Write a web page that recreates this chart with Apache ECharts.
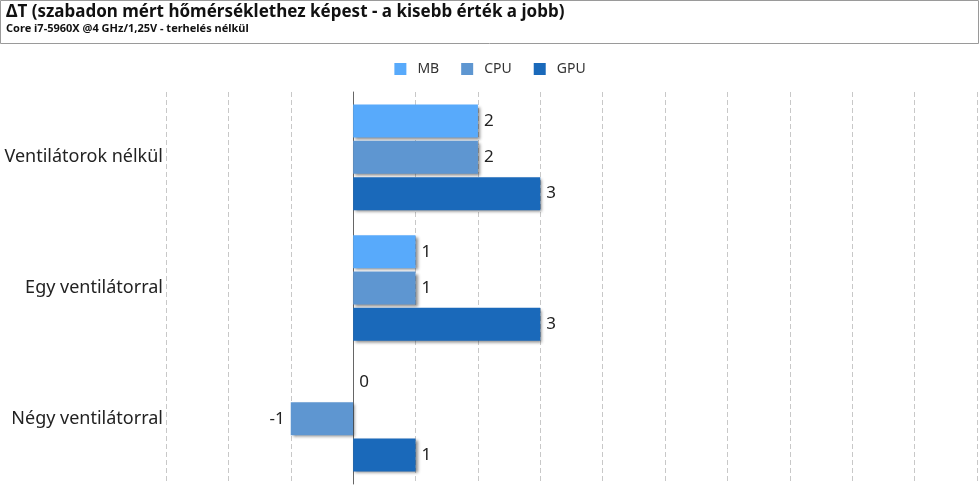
<!DOCTYPE html>
<html><head><meta charset="utf-8">
<script src="https://cdn.jsdelivr.net/npm/echarts@6/dist/echarts.min.js"></script>
<style>html,body{margin:0;padding:0;background:#fff}#c{width:980px;height:490px}</style>
</head><body><div id="c"></div>
<script>
const categories = ['Ventilátorok nélkül', 'Egy ventilátorral', 'Négy ventilátorral'];
const seriesNames = ['MB', 'CPU', 'GPU'];
const mbValues = [2, 1, 0];
const cpuValues = [2, 1, -1];
const gpuValues = [3, 3, 1];
const colors = ['#58aafb', '#5e96d1', '#1a69ba'];

const FONT = '"Noto Sans", sans-serif';
function mk(name, vals, color) {
  return {
    name: name, type: 'bar', barWidth: 33, barGap: '10%',
    itemStyle: { color: color, shadowColor: 'rgba(0,0,0,0.45)', shadowBlur: 3, shadowOffsetX: 2, shadowOffsetY: 2 },
    label: { show: true, position: 'right', distance: 6, color: '#222', fontSize: 17, fontFamily: FONT },
    data: vals.map(v => v < 0 ? { value: v, label: { position: 'left' } } : v)
  };
}
const chart = echarts.init(document.getElementById('c'));
chart.setOption({
  animation: false,
  graphic: [{ type: 'rect', shape: { x: 0.5, y: 0.5, width: 978, height: 43 }, style: { fill: '#fff', stroke: '#9a9a9a', lineWidth: 1 } }],
  title: {
    text: 'ΔT (szabadon mért hőmérséklethez képest - a kisebb érték a jobb)',
    subtext: 'Core i7-5960X @4 GHz/1,25V - terhelés nélkül',
    left: 2, top: 1, padding: [3, 4],
    itemGap: 2,
    textStyle: { fontFamily: FONT, fontSize: 17, fontWeight: 'bold', color: '#111' },
    subtextStyle: { fontFamily: FONT, fontSize: 11, fontWeight: 'bold', color: '#111' }
  },
  legend: {
    top: 57, left: 'center', itemWidth: 12, itemHeight: 12, itemGap: 22,
    icon: 'rect',
    textStyle: { fontFamily: FONT, fontSize: 14, color: '#333', padding: [0, 0, 0, 6] },
    data: seriesNames
  },
  grid: { left: 166, right: 3, top: 92, bottom: 6, containLabel: false },
  xAxis: {
    type: 'value', min: -3, max: 10, interval: 1,
    axisLabel: { show: false }, axisLine: { show: false }, axisTick: { show: false },
    splitLine: { show: true, lineStyle: { color: '#c8c8c8', type: [5, 3], width: 1 } }
  },
  yAxis: {
    type: 'category', inverse: true, data: categories,
    axisLine: { show: true, onZero: true, lineStyle: { color: '#666', width: 1 } },
    axisTick: { show: false },
    axisLabel: { margin: 3, fontFamily: FONT, fontSize: 18, color: '#222' }
  },
  series: [mk(seriesNames[0], mbValues, colors[0]), mk(seriesNames[1], cpuValues, colors[1]), mk(seriesNames[2], gpuValues, colors[2])]
});
</script></body></html>
